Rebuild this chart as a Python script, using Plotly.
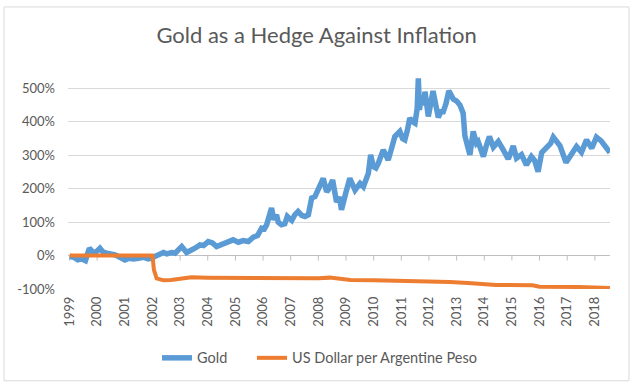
import plotly.graph_objects as go

# ---- data ----
gold_dates = [
    "1999-01-04", "1999-02-25", "1999-04-20", "1999-06-15", "1999-07-30", "1999-09-20", "1999-10-18",
    "1999-12-01", "2000-02-07", "2000-03-22", "2000-05-08", "2000-07-01", "2000-08-25", "2000-10-27",
    "2001-01-02", "2001-02-25", "2001-04-23", "2001-07-01", "2001-09-01", "2001-11-06", "2001-12-20",
    "2002-03-17", "2002-05-26", "2002-07-08", "2002-09-12", "2002-10-27", "2003-01-22", "2003-03-28",
    "2003-05-26", "2003-07-16", "2003-09-20", "2003-11-06", "2004-01-08", "2004-03-03", "2004-04-27",
    "2004-07-01", "2004-09-09", "2004-12-01", "2005-02-07", "2005-04-16", "2005-06-20", "2005-08-25",
    "2005-10-20", "2005-12-13", "2006-01-18", "2006-02-17", "2006-04-23", "2006-05-22", "2006-06-28",
    "2006-07-20", "2006-09-01", "2006-10-15", "2006-11-17", "2007-01-15", "2007-02-24", "2007-04-08",
    "2007-05-26", "2007-07-08", "2007-08-22", "2007-10-05", "2007-11-17", "2007-12-20", "2008-03-06",
    "2008-04-20", "2008-05-11", "2008-07-08", "2008-08-28", "2008-10-05", "2008-11-02", "2009-01-01",
    "2009-02-20", "2009-04-30", "2009-07-05", "2009-08-18", "2009-10-23", "2009-11-22", "2009-12-28",
    "2010-01-30", "2010-03-03", "2010-05-08", "2010-06-13", "2010-07-12", "2010-08-25", "2010-10-08",
    "2010-11-17", "2010-12-13", "2011-01-18", "2011-02-17", "2011-03-22", "2011-04-23", "2011-06-02",
    "2011-07-01", "2011-07-30", "2011-08-14", "2011-08-29", "2011-09-20", "2011-10-19", "2011-11-10",
    "2011-12-24", "2012-01-22", "2012-02-24", "2012-04-01", "2012-05-04", "2012-06-06", "2012-07-08",
    "2012-08-14", "2012-09-20", "2012-11-17", "2013-01-01", "2013-02-14", "2013-03-28", "2013-04-20",
    "2013-05-30", "2013-06-25", "2013-08-08", "2013-09-20", "2013-10-12", "2013-12-20", "2014-01-30",
    "2014-03-10", "2014-05-01", "2014-07-05", "2014-09-09", "2014-11-14", "2014-12-13", "2015-01-19",
    "2015-03-03", "2015-05-08", "2015-07-12", "2015-09-16", "2015-10-27", "2015-12-13", "2016-01-30",
    "2016-04-05", "2016-05-26", "2016-07-01", "2016-08-08", "2016-09-28", "2016-12-16", "2017-02-28",
    "2017-05-04", "2017-07-08", "2017-09-13", "2017-11-21", "2018-01-22", "2018-03-25", "2018-05-30",
    "2018-07-19",
]
gold_pct = [
    -3, -5, -13, -10, -15, 22, 15,
    7, 22, 10, 7, 5, 2, -5,
    -13, -8, -10, -8, -5, -10, -8,
    2, 9, 5, 9, 7, 27, 9,
    15, 22, 32, 30, 42, 38, 27,
    33, 39, 47, 40, 45, 42, 55,
    60, 82, 80, 92, 142, 107, 122,
    100, 92, 95, 117, 105, 122, 132,
    120, 117, 122, 172, 176, 195, 231,
    191, 196, 226, 160, 175, 137, 190,
    231, 196, 216, 206, 246, 301, 266,
    262, 276, 316, 300, 286, 320, 356,
    365, 371, 350, 346, 375, 411, 400,
    396, 440, 530, 436, 470, 450, 490,
    416, 450, 492, 450, 413, 430, 430,
    455, 493, 468, 462, 450, 426, 358,
    320, 301, 371, 336, 341, 296, 330,
    356, 324, 341, 316, 289, 305, 328,
    291, 302, 271, 296, 285, 251, 308,
    321, 335, 354, 340, 328, 278, 308,
    326, 309, 346, 321, 354, 343, 326,
    308,
]

peso_dates = [
    "1999-01-04", "2001-12-31", "2002-01-10", "2002-01-20", "2002-02-25", "2002-05-25", "2002-09-01",
    "2003-01-01", "2003-06-01", "2004-01-01", "2005-01-01", "2006-01-01", "2007-01-01", "2008-01-01",
    "2008-06-01", "2008-10-15", "2009-03-01", "2010-01-01", "2011-01-01", "2012-01-01", "2012-10-01",
    "2013-06-01", "2014-01-15", "2014-06-01", "2015-10-01", "2016-01-01", "2017-06-01", "2018-03-01",
    "2018-07-19",
]
peso_pct = [
    0, 0, -20, -43, -68, -74, -73,
    -70, -65, -66, -67, -67, -67, -68,
    -66, -69, -73, -74, -75, -77, -79,
    -82, -85, -88, -89, -93, -94, -95,
    -97,
]

years = list(range(1999, 2019))
year_labels = [str(y) for y in years]
y_ticks = [-100, 0, 100, 200, 300, 400, 500]
y_tick_labels = [f"{v}%" for v in y_ticks]

title_text = "Gold as a Hedge Against Inflation"
gold_name = "Gold"
peso_name = "US Dollar per Argentine Peso"

# ---- figure ----
FONT = "Lato"
TXT = "#595959"

fig = go.Figure()
fig.add_trace(go.Scatter(
    x=gold_dates, y=gold_pct, mode="lines", name=gold_name,
    line=dict(color="#5b9bd5", width=5.5), legendwidth=50,
))
fig.add_trace(go.Scatter(
    x=peso_dates, y=peso_pct, mode="lines", name=peso_name,
    line=dict(color="#ed7d31", width=4),
))

# small tick marks on the 0% axis line
shapes = []
for y in years:
    shapes.append(dict(
        type="line", xref="x", yref="y", ysizemode="pixel", yanchor=0,
        x0=f"{y}-01-01", x1=f"{y}-01-01", y0=0, y1=-5,
        line=dict(color="#bfbfbf", width=1), layer="below",
    ))
# chart border
shapes.append(dict(
    type="rect", xref="paper", yref="paper",
    x0=-0.118, x1=1.035, y0=-0.429, y1=1.318,
    line=dict(color="#d9d9d9", width=1), fillcolor="rgba(0,0,0,0)",
))

fig.update_layout(
    width=637, height=391,
    margin=dict(l=68, r=27, t=75, b=102),
    paper_bgcolor="white", plot_bgcolor="white",
    font=dict(family=FONT, color=TXT, size=13),
    title=dict(
        text=title_text, x=0.497, xanchor="center", xref="container",
        y=0.91, yanchor="middle", yref="container",
        font=dict(family=FONT, size=22, color=TXT),
    ),
    showlegend=True,
    legend=dict(
        orientation="h", x=0.464, xanchor="center", y=-0.322, yanchor="middle",
        font=dict(family=FONT, size=14.5, color=TXT),
        bgcolor="rgba(0,0,0,0)", itemwidth=30,
    ),
    shapes=shapes,
)
fig.update_xaxes(
    type="date",
    range=["1998-12-12", "2018-07-20"],
    tickvals=[f"{y}-01-01" for y in years],
    ticktext=year_labels,
    tickangle=-90,
    showgrid=False, zeroline=False, showline=False, ticks="",
    tickfont=dict(family=FONT, size=13, color=TXT),
    ticklabelstandoff=4,
)
fig.update_yaxes(
    range=[-100, 540],
    tickvals=y_ticks, ticktext=y_tick_labels,
    showgrid=True, gridcolor="#d9d9d9", gridwidth=1,
    zeroline=True, zerolinecolor="#bfbfbf", zerolinewidth=1,
    showline=False, ticks="",
    tickfont=dict(family=FONT, size=13, color=TXT),
    ticklabelstandoff=12,
)

fig.write_html(
    "out.html",
    config={"displayModeBar": False},
    post_script="document.body.style.margin='0';document.body.style.overflow='hidden';",
)
